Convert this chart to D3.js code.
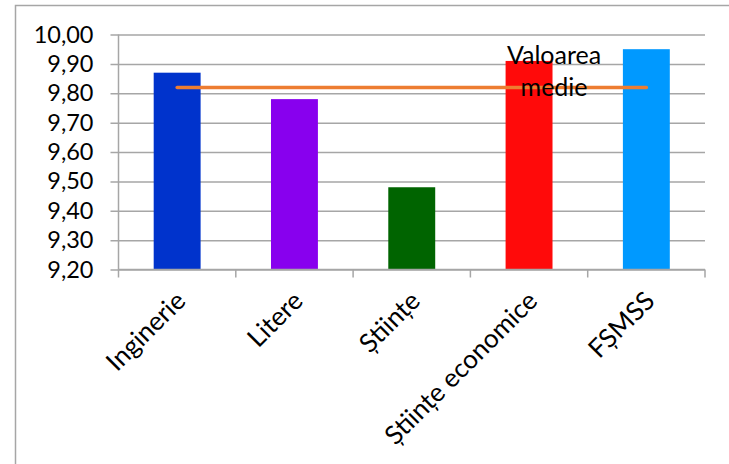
<!DOCTYPE html>
<html>
<head>
<meta charset="utf-8">
<script src="https://cdn.jsdelivr.net/npm/d3@7"></script>
<style>
  body { margin: 0; background: #fff; }
  text { font-family: Lato, "Open Sans", sans-serif; fill: #000; }
</style>
</head>
<body>
<div id="chart"></div>
<script>
// date din grafic
var categories = ["Inginerie", "Litere", "Științe", "Științe economice", "FȘMSS"];
var values = [9.87, 9.78, 9.48, 9.91, 9.95];
var meanValues = [9.82, 9.82, 9.82, 9.82, 9.82];
var meanLabel = ["Valoarea", "medie"];
var colors = ["#0033cc", "#8800ee", "#006400", "#ff0a0a", "#0099ff"];
var yTicks = [9.2, 9.3, 9.4, 9.5, 9.6, 9.7, 9.8, 9.9, 10.0];

var W = 729, H = 464;
var margin = {top: 34.5, left: 118.5, right: 24, bottom: 194.5};
var width = W - margin.left - margin.right,
    height = H - margin.top - margin.bottom;

var svg = d3.select("#chart").append("svg")
  .attr("width", W)
  .attr("height", H);

// chenarul exterior
svg.append("rect")
  .attr("x", 15.5).attr("y", 5.5)
  .attr("width", 740).attr("height", 480)
  .attr("fill", "none")
  .attr("stroke", "#a6a6a6")
  .attr("stroke-width", 1.5);

var g = svg.append("g")
  .attr("transform", "translate(" + margin.left + "," + margin.top + ")");

var x = d3.scaleBand().domain(categories).range([0, width]).padding(0);
var y = d3.scaleLinear().domain([9.2, 10.0]).range([height, 0]);

var fmt = function(d) { return d3.format(".2f")(d).replace(".", ","); };

// axa Y cu linii de grila
var yAxis = g.append("g")
  .call(d3.axisLeft(y).tickValues(yTicks).tickSize(-width - 8).tickFormat(fmt).tickPadding(16));
yAxis.select(".domain").remove();
yAxis.selectAll(".tick line")
  .attr("x1", -8).attr("x2", width)
  .attr("stroke", "#a6a6a6").attr("stroke-width", 1.5);
yAxis.selectAll(".tick text")
  .attr("x", -25)
  .style("font-size", "23.5px")
  .style("font-family", "Lato, 'Open Sans', sans-serif");

g.append("line")
  .attr("x1", 0).attr("x2", 0)
  .attr("y1", 0).attr("y2", height)
  .attr("stroke", "#a6a6a6").attr("stroke-width", 1.5);

// bare
var barW = x.bandwidth() * 0.4;
g.selectAll(".bar")
  .data(values)
  .enter().append("rect")
  .attr("class", "bar")
  .attr("x", function(d, i) { return x(categories[i]) + (x.bandwidth() - barW) / 2; })
  .attr("width", barW)
  .attr("y", function(d) { return y(d); })
  .attr("height", function(d) { return height - y(d); })
  .attr("fill", function(d, i) { return colors[i]; });

// axa X
var xAxis = g.append("g")
  .attr("transform", "translate(0," + height + ")")
  .call(d3.axisBottom(x).tickSize(0).tickFormat(""));
xAxis.select(".domain").remove();
xAxis.append("line")
  .attr("x1", 0).attr("x2", width)
  .attr("stroke", "#a6a6a6").attr("stroke-width", 1.5);
var xEdges = categories.map(function(c) { return x(c); }).concat([width]);
xAxis.selectAll(".edge")
  .data(xEdges)
  .enter().append("line")
  .attr("class", "edge")
  .attr("x1", function(d) { return d; }).attr("x2", function(d) { return d; })
  .attr("y1", 0).attr("y2", 8)
  .attr("stroke", "#a6a6a6").attr("stroke-width", 1.5);

xAxis.selectAll(".cat")
  .data(categories)
  .enter().append("text")
  .attr("class", "cat")
  .attr("text-anchor", "end")
  .attr("transform", function(d) {
    return "translate(" + (x(d) + x.bandwidth() / 2 + 10) + "," + 33 + ") rotate(-45)";
  })
  .style("font-size", "26px")
  .text(function(d) { return d; });

// linia valorii medii
var line = d3.line()
  .x(function(d, i) { return x(categories[i]) + x.bandwidth() / 2; })
  .y(function(d) { return y(d); });
g.append("path")
  .datum(meanValues)
  .attr("d", line)
  .attr("fill", "none")
  .attr("stroke", "#ed7d31")
  .attr("stroke-width", 3.5)
  .attr("stroke-linecap", "round");

// eticheta
var lx = x(categories[3]) + x.bandwidth() / 2 + 25;
g.append("text")
  .attr("text-anchor", "middle")
  .style("font-size", "25px")
  .selectAll("tspan")
  .data(meanLabel)
  .enter().append("tspan")
  .attr("x", lx)
  .attr("y", function(d, i) { return 29 + i * 32; })
  .text(function(d) { return d; });
</script>
</body>
</html>
